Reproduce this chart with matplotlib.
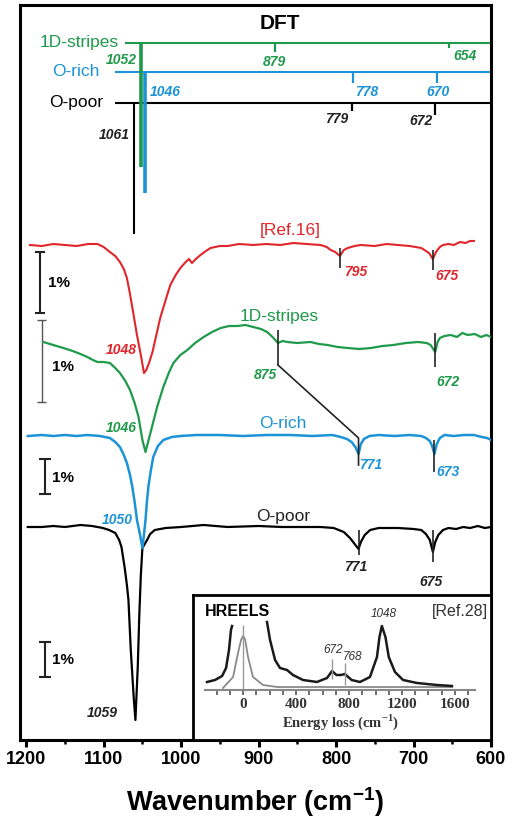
import matplotlib.pyplot as plt
from matplotlib.ticker import MultipleLocator

plt.rcParams['font.family'] = ['Liberation Sans', 'DejaVu Sans']

RED = '#e0262b'
GREEN = '#1f9a4a'
BLUE = '#1c93d6'
DARK = '#222222'

# ---- IR spectra, stacked (wavenumber in cm-1, signal in arb. units) ----
ref16_wn = [1195, 1180, 1165, 1150, 1135, 1120, 1108, 1100, 1092, 1085, 1079, 1074,
            1070, 1066, 1062, 1057, 1052, 1048, 1045, 1041, 1037, 1032, 1027, 1020,
            1014, 1007, 1001, 994, 990, 986, 981, 975, 968, 962, 950, 940, 925, 907,
            890, 872, 855, 838, 820, 812, 807, 801, 795, 790, 785, 776, 768, 750, 735,
            720, 705, 690, 684, 680, 675, 671, 666, 662, 655, 648, 640, 633, 627, 622]
ref16_y = [495, 494, 496, 495, 494, 496, 496, 493, 488, 484, 478, 471,
           462, 446, 428, 405, 385, 367, 370, 378, 388, 405, 422, 440,
           455, 465, 472, 478, 481, 477, 481, 485, 489, 492, 494, 494, 496, 495,
           496, 495, 497, 496, 495, 493, 490, 488, 484, 490, 492, 494, 495, 494, 496,
           495, 494, 492, 489, 487, 481, 488, 493, 495, 496, 495, 498, 497, 499, 499]

stripes_wn = [1178, 1165, 1152, 1140, 1130, 1121, 1114, 1108, 1100, 1092, 1085, 1079,
              1072, 1066, 1060, 1055, 1050, 1046, 1042, 1037, 1031, 1023, 1016, 1010,
              1001, 992, 982, 971, 960, 949, 938, 927, 917, 907, 897, 889, 882, 875,
              869, 863, 850, 833, 822, 811, 798, 785, 770, 755, 740, 726, 710, 694,
              683, 678, 672, 669, 666, 660, 652, 644, 637, 630, 621, 613, 606, 600]
stripes_y = [398, 395, 392, 389, 386, 383, 380, 378, 378, 377, 372, 367,
             359, 350, 337, 323, 300, 288, 300, 315, 333, 353, 367, 377,
             385, 390, 397, 403, 408, 412, 414, 414, 415, 413, 411, 408, 403, 397,
             399, 398, 397, 398, 396, 395, 393, 392, 391, 392, 394, 395, 397, 398,
             397, 395, 388, 398, 402, 404, 405, 403, 407, 405, 406, 403, 405, 403]

orich_wn = [1198, 1180, 1165, 1150, 1135, 1121, 1105, 1092, 1085, 1079, 1074, 1070,
            1066, 1063, 1060, 1057, 1053, 1050, 1048, 1046, 1044, 1042, 1039, 1036,
            1030, 1023, 1012, 1001, 980, 950, 920, 890, 860, 830, 805, 794, 786, 780,
            775, 771, 768, 764, 757, 745, 725, 705, 690, 684, 679, 676, 673, 670, 666,
            660, 648, 635, 622, 612, 605, 600]
orich_y = [304, 305, 304, 305, 304, 305, 304, 302, 298, 293, 285, 277,
           265, 253, 238, 220, 205, 192, 205, 220, 240, 255, 270, 283,
           294, 300, 303, 304, 305, 305, 304, 305, 305, 304, 305, 303, 301, 298,
           293, 286, 296, 301, 304, 305, 304, 305, 304, 302, 299, 294, 286, 296, 302,
           305, 304, 305, 305, 303, 302, 300]

opoor_wn = [1198, 1180, 1165, 1150, 1130, 1115, 1101, 1093, 1085, 1080, 1077, 1073,
            1070, 1068, 1065, 1061, 1059, 1056, 1054, 1052, 1050, 1044, 1040, 1034,
            1020, 1000, 971, 940, 900, 870, 846, 820, 803, 790, 782, 776, 771, 768,
            763, 756, 745, 720, 700, 690, 684, 679, 675, 672, 668, 662, 655, 645,
            636, 627, 617, 608, 600]
opoor_y = [213, 213, 214, 213, 215, 214, 212, 210, 207, 200, 193, 173,
           155, 140, 90, 40, 20, 73, 125, 165, 192, 200, 206, 210,
           212, 213, 215, 213, 214, 213, 213, 213, 212, 208, 202, 196, 191, 198,
           205, 210, 212, 212, 211, 210, 206, 200, 188, 198, 205, 210, 212, 211,
           213, 212, 214, 212, 213]

# ---- DFT stick spectra ----
dft_names = ['1D-stripes', 'O-rich', 'O-poor']
dft_colors = [GREEN, BLUE, 'black']
dft_base = [697, 668, 637]
dft_start = [1073, 1086, 1086]
dft_name_wn = [1081, 1105, 1101]
dft_modes = [[1052, 879, 654], [1046, 778, 670], [1061, 779, 672]]
dft_heights = [[124, 9, 5], [121, 11, 11], [131, 8, 12]]

# ---- HREELS inset (energy loss in cm-1) ----
hreels_x = [-272, -211, -158, -128, -106, -91, -83, None, 181, 204, 242, 279, 332,
            377, 453, 558, 634, 672, 705, 740, 768, 820, 883, 958, 1011, 1030, 1048,
            1075, 1100, 1147, 1208, 1313, 1464, 1577]
hreels_y = [8, 10, 14, 22, 40, 60, 64, None, 68, 50, 30, 22, 20,
            15, 10, 8, 12, 19, 15, 15, 16, 10, 8, 13, 33, 53, 64,
            53, 33, 18, 10, 7, 5, 4]
elastic_x = [-151, -75, -38, -15, 0, 15, 38, 75, 151, 257, 1577]
elastic_y = [2, 13, 37, 50, 54, 51, 33, 13, 5, 3, 3]

fig = plt.figure(figsize=(5.18, 8.19), dpi=100)
ax = fig.add_axes([20 / 518, 79 / 819, 471 / 518, 735 / 819])
ax.set_xlim(1208, 600)
ax.set_ylim(0, 735)

# spectra, red on top
ax.plot(opoor_wn, opoor_y, color='black', lw=1.6, zorder=3)
ax.plot(orich_wn, orich_y, color=BLUE, lw=1.8, zorder=4)
ax.plot(stripes_wn, stripes_y, color=GREEN, lw=1.6, zorder=5)
ax.plot(ref16_wn, ref16_y, color=RED, lw=1.5, zorder=6)

# DFT sticks
for name, c, base, x0, xn, modes, hts in zip(dft_names, dft_colors, dft_base,
                                              dft_start, dft_name_wn, dft_modes,
                                              dft_heights):
    ax.hlines(base, x0, 600, color=c, lw=1.5, zorder=2)
    main_lw = 1.5 if c == 'black' else 2.6
    ax.vlines(modes[0], base - hts[0], base, color=c, lw=main_lw,
              zorder=3 if c == BLUE else 4)
    ax.vlines(modes[1:], [base - h for h in hts[1:]], base, color=c, lw=1.6)
    ax.text(xn, base + 1, name, color=c, fontsize=12.5, ha='right', va='center')

num = dict(fontsize=10, fontweight='bold', fontstyle='italic')
ax.text(1057, 680, '1052', color=GREEN, ha='right', va='center', **num)
ax.text(879, 678, '879', color=GREEN, ha='center', va='center', **num)
ax.text(648, 684, '654', color=GREEN, ha='left', va='center', **num)
ax.text(1040, 648, '1046', color=BLUE, ha='left', va='center', **num)
ax.text(760, 648, '778', color=BLUE, ha='center', va='center', **num)
ax.text(669, 648, '670', color=BLUE, ha='center', va='center', **num)
ax.text(784, 621, '779', color=DARK, ha='right', va='center', **num)
ax.text(676, 619, '672', color=DARK, ha='right', va='center', **num)
ax.text(1066, 605, '1061', color=DARK, ha='right', va='center', **num)
ax.text(872, 717, 'DFT', fontsize=15, fontweight='bold', ha='center', va='center')

# band markers on the measured spectra
ax.vlines([795, 675], [472, 470], [492, 490], color=DARK, lw=1.2, zorder=7)
ax.vlines([875, 672], [375, 373], [410, 407], color=DARK, lw=1.2, zorder=7)
ax.vlines([673, 771, 675], [268, 185, 178], [300, 210, 210], color=DARK, lw=1.2, zorder=7)
ax.plot([875, 771, 771], [375, 302, 275], color=DARK, lw=1.2, zorder=7)

ax.text(1057, 390, '1048', color=RED, ha='right', va='center', **num)
ax.text(775, 468, '795', color=RED, ha='center', va='center', **num)
ax.text(657, 464, '675', color=RED, ha='center', va='center', **num)
ax.text(1057, 312, '1046', color=GREEN, ha='right', va='center', **num)
ax.text(891, 365, '875', color=GREEN, ha='center', va='center', **num)
ax.text(656, 358, '672', color=GREEN, ha='center', va='center', **num)
ax.text(1062, 220, '1050', color=BLUE, ha='right', va='center', **num)
ax.text(755, 275, '771', color=BLUE, ha='center', va='center', **num)
ax.text(656, 268, '673', color=BLUE, ha='center', va='center', **num)
ax.text(775, 173, '771', color=DARK, ha='center', va='center', **num)
ax.text(678, 158, '675', color=DARK, ha='center', va='center', **num)
ax.text(1082, 27, '1059', color=DARK, ha='right', va='center', **num)

ax.text(859, 510, '[Ref.16]', color=RED, fontsize=12.5, ha='center', va='center')
ax.text(874, 424, '1D-stripes', color=GREEN, fontsize=12.5, ha='center', va='center')
ax.text(869, 317, 'O-rich', color=BLUE, fontsize=12.5, ha='center', va='center')
ax.text(868, 224, 'O-poor', color=DARK, fontsize=12.5, ha='center', va='center')

# 1% scale bars
bar_wn = [1182, 1180, 1176, 1176]
bar_lo = [427, 338, 246, 63]
bar_hi = [488, 420, 281, 98]
bar_cap = [6.5, 5.5, 7.5, 7.5]
bar_col = [DARK, '#555555', DARK, DARK]
bar_txt_wn = [1172, 1167, 1167, 1167]
bar_txt_y = [457, 373, 262, 80]
for x, lo, hi, cap, c, tx, ty in zip(bar_wn, bar_lo, bar_hi, bar_cap, bar_col,
                                     bar_txt_wn, bar_txt_y):
    lw = 1.0 if c == '#555555' else 1.5
    ax.vlines(x, lo, hi, color=c, lw=lw)
    ax.hlines([lo, hi], x + cap, x - cap, color=c, lw=lw)
    ax.text(tx, ty, '1%', fontsize=11, fontweight='bold', ha='left', va='center')

ax.set_yticks([])
ax.xaxis.set_major_locator(MultipleLocator(100))
ax.xaxis.set_minor_locator(MultipleLocator(50))
ax.tick_params(axis='x', which='major', length=5, width=2.2, pad=3,
               labelsize=13)
ax.tick_params(axis='x', which='minor', length=3, width=1.8)
for lab in ax.get_xticklabels():
    lab.set_fontweight('bold')
for s in ax.spines.values():
    s.set_linewidth(2.2)
ax.set_xlabel('Wavenumber (cm$^{\\mathregular{-1}}$)', fontsize=19.5,
              fontweight='bold', labelpad=12)

# HREELS inset
box = fig.add_axes([193 / 518, 79 / 819, 298 / 518, 145 / 819])
box.set_xticks([])
box.set_yticks([])
for s in box.spines.values():
    s.set_linewidth(2)
box.text(0.04, 0.883, 'HREELS', fontsize=11.5, fontweight='bold',
         ha='left', va='center', transform=box.transAxes)
box.text(0.99, 0.883, '[Ref.28]', fontsize=11.5, color='#333333',
         ha='right', va='center', transform=box.transAxes)

hr = fig.add_axes([205 / 518, (819 - 690) / 819, 270 / 518, 75 / 819])
hr.patch.set_visible(False)
hr.set_xlim(-287, 1751)
hr.set_ylim(0, 75)
for side in ['left', 'right', 'top']:
    hr.spines[side].set_visible(False)
hr.spines['bottom'].set_color('#888888')
hr.spines['bottom'].set_linewidth(1.5)
hr.set_yticks([])
hr.xaxis.set_major_locator(MultipleLocator(400))
hr.xaxis.set_minor_locator(MultipleLocator(100))
hr.tick_params(axis='x', which='both', length=3.5, width=1.2, color='#555555', pad=2,
               labelsize=11, labelcolor='#333333')
for lab in hr.get_xticklabels():
    lab.set_fontfamily('Liberation Serif')
    lab.set_fontweight('bold')
hr.set_xlabel('Energy loss (cm$^{\\mathregular{-1}}$)', fontsize=10.5,
              fontfamily='Liberation Serif', fontweight='bold', color='#333333',
              labelpad=1)
hr.plot(elastic_x, elastic_y, color='#8a8a8a', lw=1.3)
hr.plot([x if x is not None else float('nan') for x in hreels_x],
        [y if y is not None else float('nan') for y in hreels_y],
        color='#1a1a1a', lw=1.8)
hr.vlines([0, 672, 768], [0, 11, 5], [65, 31, 27], color='#999999', lw=1)
small = dict(fontsize=8.5, fontstyle='italic', color='#333333', ha='center',
             va='center')
hr.text(680, 40, '672', **small)
hr.text(830, 33, '768', **small)
hr.text(1065, 76, '1048', clip_on=False, **small)

fig.savefig('out.png', dpi=100)
